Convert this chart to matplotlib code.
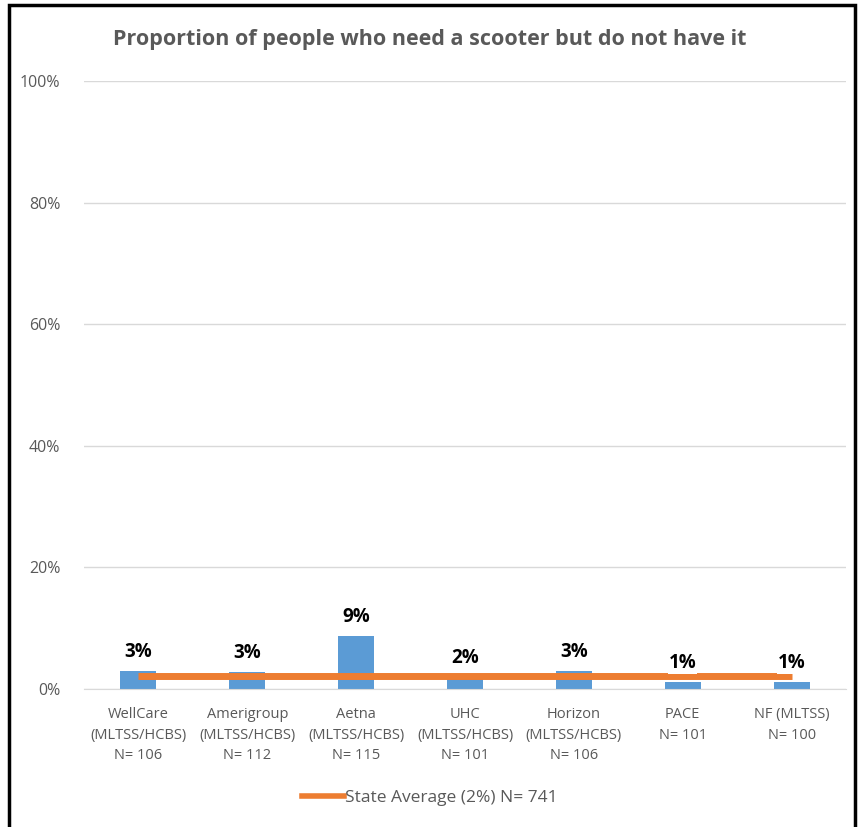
import numpy as np
import matplotlib.pyplot as plt
from matplotlib.patches import Rectangle
from matplotlib.ticker import FuncFormatter

categories = ['WellCare\n(MLTSS/HCBS)\nN= 106', 'Amerigroup\n(MLTSS/HCBS)\nN= 112',
              'Aetna\n(MLTSS/HCBS)\nN= 115', 'UHC\n(MLTSS/HCBS)\nN= 101',
              'Horizon\n(MLTSS/HCBS)\nN= 106', 'PACE\nN= 101', 'NF (MLTSS)\nN= 100']
values = [3.0, 2.8, 8.7, 1.9, 3.0, 1.1, 1.1]
value_labels = ['3%', '3%', '9%', '2%', '3%', '1%', '1%']
state_avg = [2.1] * 7
legend_label = 'State Average (2%) N= 741'
title = 'Proportion of people who need a scooter but do not have it'

plt.rcParams['font.family'] = ['Open Sans', 'DejaVu Sans']
grey = '#595959'

fig = plt.figure(figsize=(8.6, 8.27), dpi=100)
ax = fig.add_axes([84 / 860, 1 - 689 / 827, 762 / 860, 608 / 827])

x = np.arange(len(categories))
ax.bar(x, values, width=0.33, color='#5B9BD5', zorder=2)
ax.plot(x, state_avg, color='#ED7D31', linewidth=5, zorder=3, solid_capstyle='butt')

for xi, v, lab in zip(x, values, value_labels):
    ax.text(xi, v + 1.5, lab, ha='center', va='bottom', fontsize=13.5, fontweight='bold',
            color='black', zorder=4,
            bbox=dict(facecolor='white', edgecolor='none', pad=0.3))

ax.set_xlim(-0.5, len(categories) - 0.5)
ax.set_ylim(0, 100)
ax.set_yticks(range(0, 101, 20))
ax.yaxis.set_major_formatter(FuncFormatter(lambda v, p: f'{int(v)}%'))
ax.set_xticks(x)
ax.set_xticklabels(categories, fontsize=10.5, color=grey, linespacing=1.5)
ax.tick_params(axis='y', labelsize=11.5, labelcolor=grey, length=0, pad=17)
ax.tick_params(axis='x', length=0, pad=13)
ax.grid(axis='y', color='#D9D9D9', linewidth=1, zorder=0)
for s in ['top', 'right', 'left']:
    ax.spines[s].set_visible(False)
ax.spines['bottom'].set_color('#D9D9D9')

fig.text(0.5, 1 - 40 / 827, title, ha='center', va='center', fontsize=15.5,
         fontweight='bold', color=grey)

fig.legend([plt.Line2D([0], [0], color='#ED7D31', linewidth=4)], [legend_label],
           loc='center', bbox_to_anchor=(0.5, 1 - 798 / 827), frameon=False,
           fontsize=12.5, labelcolor=grey, handlelength=2.4, handletextpad=0.1)

fig.patches.append(Rectangle((9 / 860, -0.05), 846 / 860, 1 - 5 / 827 + 0.05,
                             transform=fig.transFigure, fill=False,
                             edgecolor='black', linewidth=2.5))

fig.savefig('out.png', dpi=100)
